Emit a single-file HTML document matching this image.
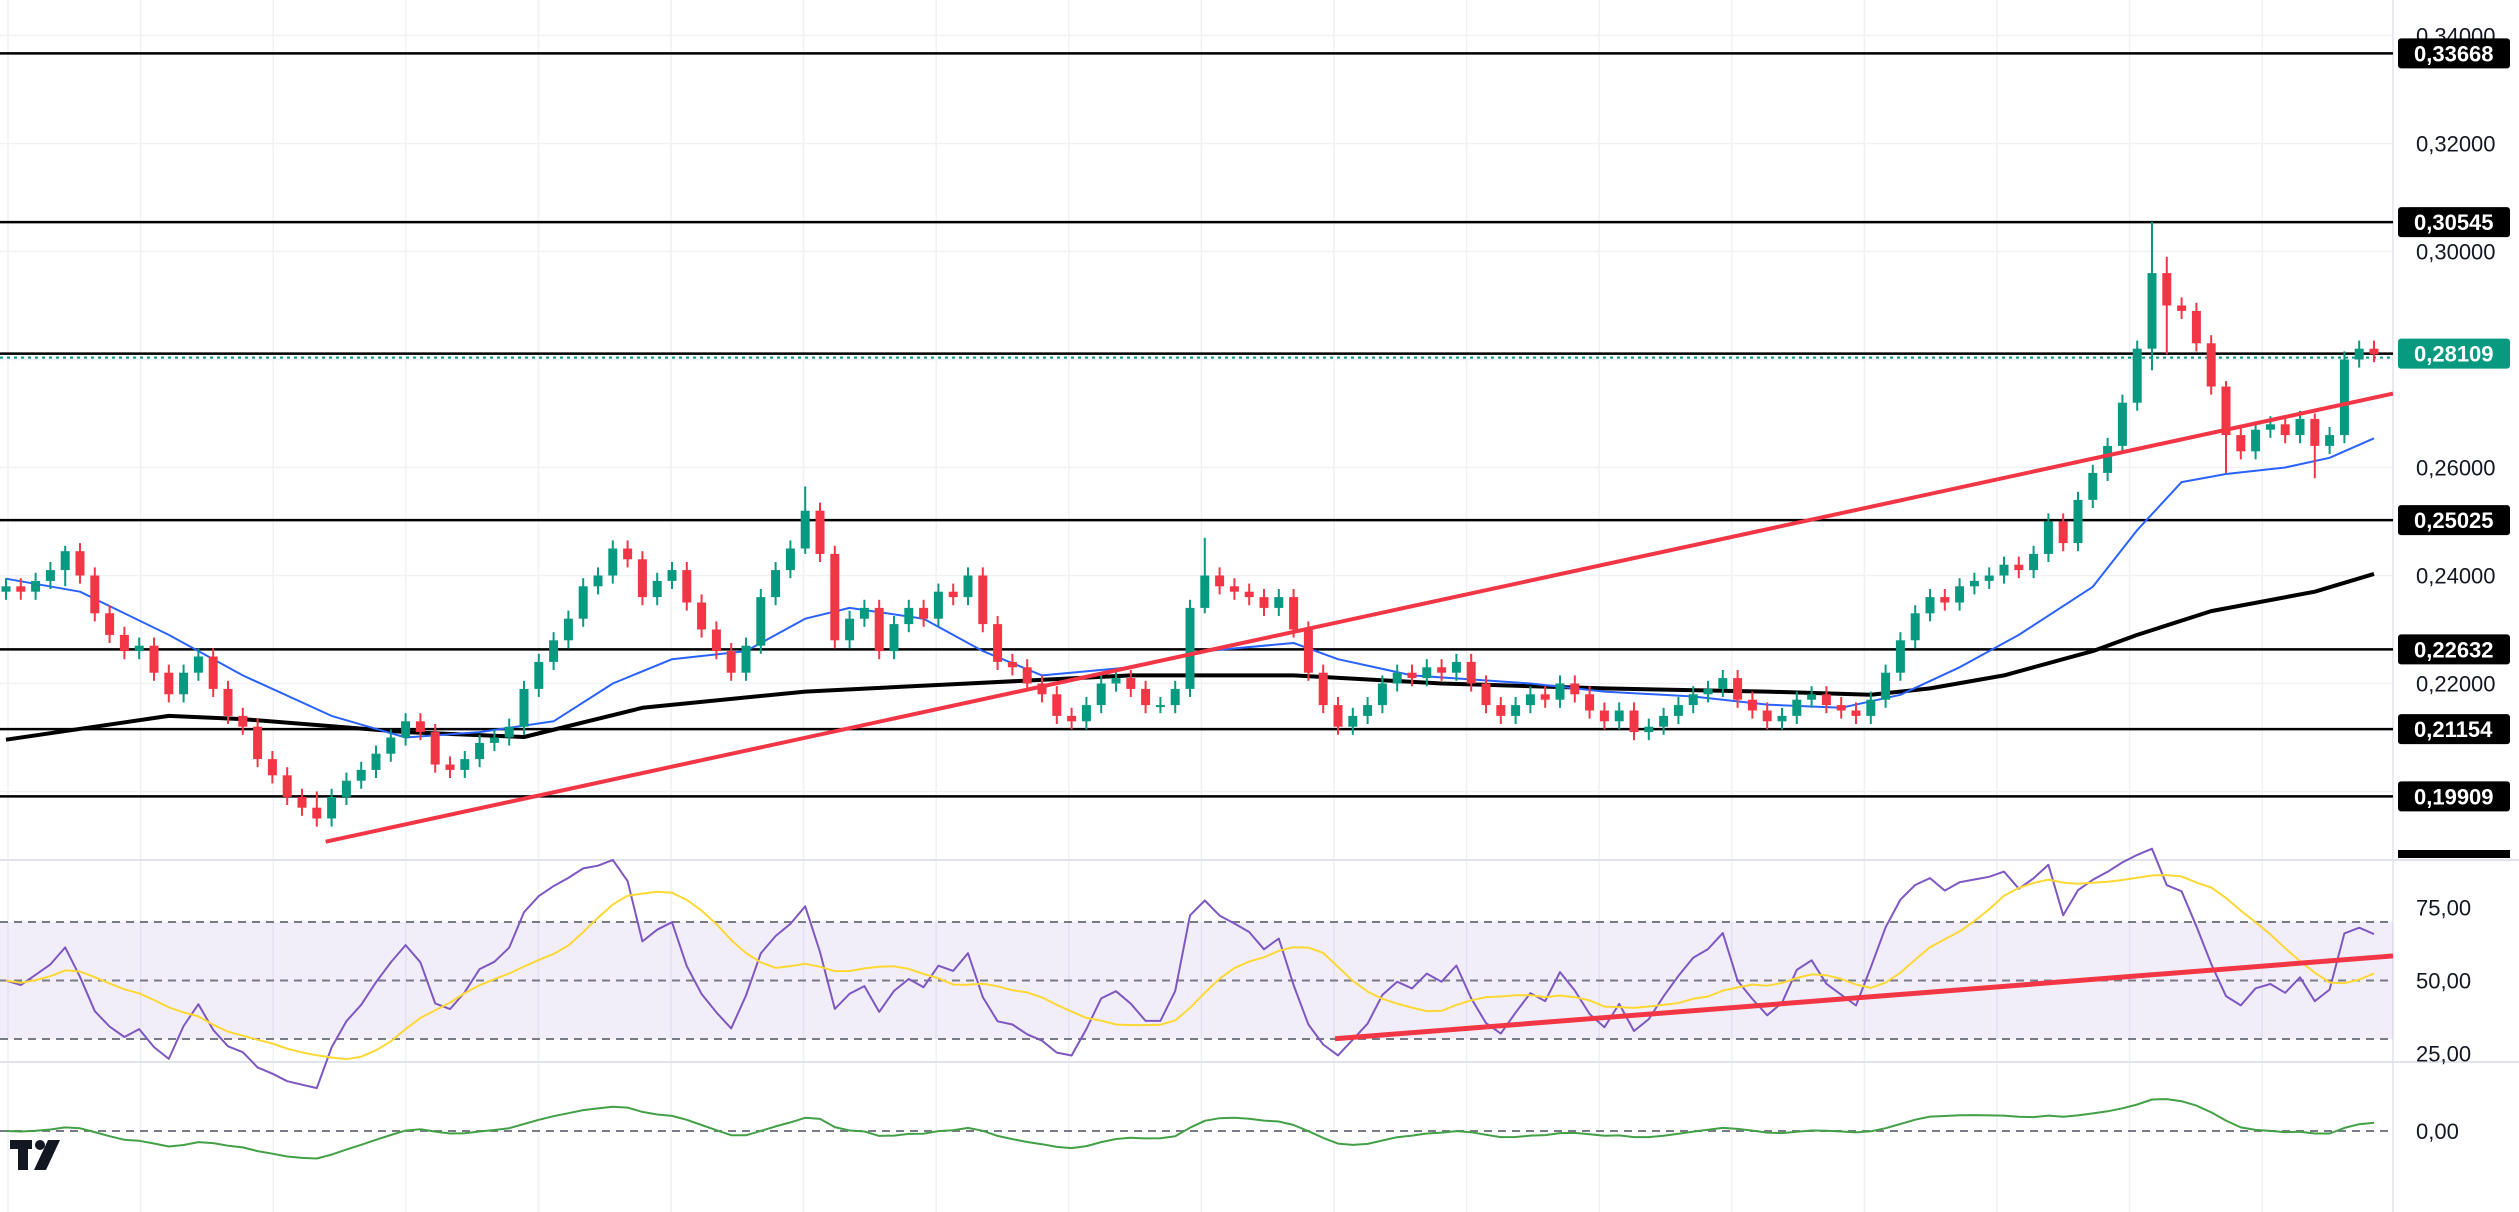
<!DOCTYPE html>
<html><head><meta charset="utf-8"><style>
html,body{margin:0;padding:0;background:#fff;}
svg{display:block;font-family:"Liberation Sans",sans-serif;}
</style></head><body>
<svg id="chart" width="2519" height="1212" viewBox="0 0 2519 1212" xmlns="http://www.w3.org/2000/svg"></svg>
<script>
const closes=[0.238,0.237,0.239,0.241,0.2445,0.240,0.233,0.229,0.226,0.227,0.222,0.218,0.222,0.225,0.219,0.214,0.212,0.206,0.203,0.199,0.197,0.195,0.199,0.202,0.204,0.207,0.210,0.213,0.211,0.205,0.204,0.206,0.209,0.210,0.212,0.219,0.224,0.228,0.232,0.238,0.240,0.245,0.243,0.236,0.239,0.241,0.235,0.230,0.226,0.222,0.227,0.236,0.241,0.245,0.252,0.244,0.228,0.232,0.234,0.226,0.231,0.234,0.232,0.237,0.236,0.240,0.231,0.224,0.223,0.220,0.218,0.214,0.213,0.216,0.220,0.221,0.219,0.216,0.216,0.219,0.234,0.240,0.238,0.237,0.236,0.234,0.236,0.230,0.222,0.216,0.212,0.214,0.216,0.220,0.222,0.221,0.223,0.222,0.224,0.220,0.216,0.214,0.216,0.218,0.217,0.220,0.218,0.215,0.213,0.215,0.211,0.212,0.214,0.216,0.218,0.219,0.221,0.217,0.215,0.213,0.214,0.217,0.218,0.216,0.215,0.214,0.217,0.222,0.228,0.233,0.236,0.235,0.238,0.239,0.240,0.242,0.241,0.244,0.250,0.246,0.254,0.259,0.264,0.272,0.282,0.296,0.290,0.289,0.283,0.275,0.266,0.263,0.267,0.268,0.266,0.269,0.264,0.266,0.280,0.282,0.281];
const extremeIdx=[4,21,54,81,145,146,150,156];
const extremeHigh=[0.2455,0.200,0.2565,0.2470,0.3055,0.2990,0.2760,0.2700];
const extremeLow=[0.2380,0.1935,0.2440,0.2330,0.2780,0.2810,0.2590,0.2580];
const ma200Idx=[0,11,16,27,35,43,54,65,76,87,97,108,119,126,130,135,141,144,149,156,160];
const ma200Val=[0.2096,0.2140,0.2134,0.2110,0.2101,0.2155,0.2185,0.2200,0.2215,0.2215,0.2200,0.2191,0.2185,0.2179,0.2191,0.2215,0.2260,0.2290,0.2334,0.2370,0.2403];
const ma50Idx=[0,5,11,16,22,27,32,37,41,45,50,54,57,62,66,70,76,81,87,90,95,103,108,114,119,124,128,132,136,141,144,147,150,154,157,160];
const ma50Val=[0.2394,0.2370,0.2290,0.2215,0.2140,0.2100,0.2110,0.2130,0.2200,0.2245,0.2260,0.2320,0.2340,0.2320,0.2260,0.2215,0.2230,0.2260,0.2275,0.2245,0.2215,0.2200,0.2185,0.2176,0.2161,0.2155,0.2179,0.2230,0.2290,0.2379,0.2484,0.2573,0.2588,0.2600,0.2618,0.2654];
const levels=[0.33668,0.30545,0.28109,0.25025,0.22632,0.21154,0.19909];
const levelLabels=["0,33668","0,30545","0,28109","0,25025","0,22632","0,21154","0,19909"];
const priceTicks=[0.34,0.32,0.30,0.26,0.24,0.22];
const priceTickLabels=["0,34000","0,32000","0,30000","0,26000","0,24000","0,22000"];
const trendIdx=[21.6,161.3];
const trendVal=[0.1907,0.2737];
const rsiTicks=[75,50,25];
const rsiTickLabels=["75,00","50,00","25,00"];
const rsiTrendIdx=[89.8,161.3];
const rsiTrendVal=[30.1,58.4];

const svg=document.getElementById('chart');
const NS='http://www.w3.org/2000/svg';
function mk(tag,attrs,parent){const e=document.createElementNS(NS,tag);for(const k in attrs)e.setAttribute(k,attrs[k]);(parent||svg).appendChild(e);return e;}
const PW=2393;
const xOf=i=>6+i*14.8;
const yP=p=>467.5-(p-0.26)*5400;
const yR=v=>980.5-(v-50)*2.925;
const yO=v=>1131-v;

for(let gx=8;gx<PW;gx+=132.6){const g=mk('line',{x1:gx,y1:0,x2:gx,y2:1212,stroke:'#f0f1f4','stroke-width':1.5});

}
[0.34,0.32,0.30,0.28,0.26,0.24,0.22,0.20].forEach(p=>{const g=mk('line',{x1:0,y1:yP(p),x2:PW,y2:yP(p),stroke:'#f0f1f4','stroke-width':1.5});

});
[860,1062].forEach(y=>{const s=mk('line',{x1:0,y1:y,x2:2519,y2:y,stroke:'#e0e3eb','stroke-width':2});

});
const ax=mk('line',{x1:PW,y1:0,x2:PW,y2:1212,stroke:'#e0e3eb','stroke-width':1.5});



levels.forEach((p,k)=>{const l=mk('line',{x1:0,y1:yP(p),x2:PW,y2:yP(p),stroke:'#000','stroke-width':2.5});

});
const dl=mk('line',{x1:0,y1:yP(0.28109)+4,x2:PW,y2:yP(0.28109)+4,stroke:'#089981','stroke-width':2,'stroke-dasharray':'3 4'});



function poly(xs,vs,ys,stroke,w){const pts=xs.map((x,k)=>xOf(x).toFixed(1)+','+ys(vs[k]).toFixed(1)).join(' ');return mk('polyline',{points:pts,fill:'none',stroke:stroke,'stroke-width':w,'stroke-linejoin':'round'});}
const m200=poly(ma200Idx,ma200Val,yP,'#000',4);


const m50=poly(ma50Idx,ma50Val,yP,'#2962ff',2);



closes.forEach((c,i)=>{
  const o=i===0?c-0.001:closes[i-1];
  let hi=Math.max(o,c)+0.0015, lo=Math.min(o,c)-0.0015;
  const k=extremeIdx.indexOf(i); if(k>=0){hi=extremeHigh[k];lo=extremeLow[k];}
  const col=c>=o?'#089981':'#f23645';
  const x=xOf(i);
  const w=mk('line',{x1:x,y1:yP(hi),x2:x,y2:yP(lo),stroke:col,'stroke-width':2});
  
  
  const t=Math.min(yP(o),yP(c)),h=Math.max(2,Math.abs(yP(o)-yP(c)));
  const b=mk('rect',{x:x-4.5,y:t,width:9,height:h,fill:col});
  
  
});
const tl=mk('line',{x1:xOf(trendIdx[0]),y1:yP(trendVal[0]),x2:PW,y2:yP(trendVal[0]+(trendVal[1]-trendVal[0])*((PW-6)/14.8-trendIdx[0])/(trendIdx[1]-trendIdx[0])),stroke:'#f23645','stroke-width':4});



// RSI (period 7, Wilder smoothing with seeded averages)
const rsi=[];{const n=7;let ag=0.003,al=0.003;for(let i=0;i<closes.length;i++){const d=i?closes[i]-closes[i-1]:0;const g=Math.max(d,0),l=Math.max(-d,0);ag=(ag*(n-1)+g)/n;al=(al*(n-1)+l)/n;rsi.push(100-100/(1+ag/al));}}
const rsiMa=rsi.map((v,i)=>{const s=rsi.slice(Math.max(0,i-9),i+1);return s.reduce((a,b)=>a+b,0)/s.length;});
const bg=mk('rect',{x:0,y:yR(70),width:PW,height:yR(30)-yR(70),fill:'#7e57c2','fill-opacity':0.1});


[70,50,30].forEach(v=>{const d=mk('line',{x1:0,y1:yR(v),x2:PW,y2:yR(v),stroke:'#787b86','stroke-width':2,'stroke-dasharray':'8 6'});

});
const idx=closes.map((_,i)=>i);
const rl=poly(idx,rsi,yR,'#7e57c2',2);


const rm=poly(idx,rsiMa,yR,'#fdd835',2);


const rt=mk('line',{x1:xOf(rsiTrendIdx[0]),y1:yR(rsiTrendVal[0]),x2:PW,y2:yR(rsiTrendVal[1]),stroke:'#f23645','stroke-width':5});



// oscillator
const ema=(n)=>{const a=2/(n+1);let e=closes[0];return closes.map(c=>(e=e+a*(c-e)));};
const e1=ema(5),e2=ema(12);
const osc=closes.map((c,i)=>(e1[i]-e2[i])/c*600);
const oz=mk('line',{x1:0,y1:yO(0),x2:PW,y2:yO(0),stroke:'#787b86','stroke-width':2,'stroke-dasharray':'8 6'});


const ol=poly(idx,osc,yO,'#43a047',2);



priceTicks.forEach((p,k)=>{const t=mk('text',{x:2416,y:yP(p)+8,'font-size':22,fill:'#131722'});t.textContent=priceTickLabels[k];

});
levels.forEach((p,k)=>{const y=yP(p);const g=k===2;
const r=mk('rect',{x:2398,y:y-15,width:112,height:30,rx:3,fill:g?'#089981':'#000'});


const t=mk('text',{x:2414,y:y+8,'font-size':22,fill:'#fff','font-weight':'bold'});t.textContent=levelLabels[k];

});
const pb=mk('rect',{x:2398,y:850,width:112,height:8,fill:'#000'});


rsiTicks.forEach((v,k)=>{const t=mk('text',{x:2416,y:yR(v)+8,'font-size':22,fill:'#131722'});t.textContent=rsiTickLabels[k];

});
const ot=mk('text',{x:2416,y:yO(0)+8,'font-size':22,fill:'#131722'});ot.textContent='0,00';



const lg=mk('g',{fill:'#131722'});


mk('rect',{x:10,y:1140,width:22,height:9},lg);
mk('rect',{x:18,y:1140,width:10,height:30},lg);
mk('circle',{cx:40,cy:1145,r:5},lg);
mk('polygon',{points:'48,1140 60,1140 46,1170 34,1170'},lg);
</script>
</body></html>
